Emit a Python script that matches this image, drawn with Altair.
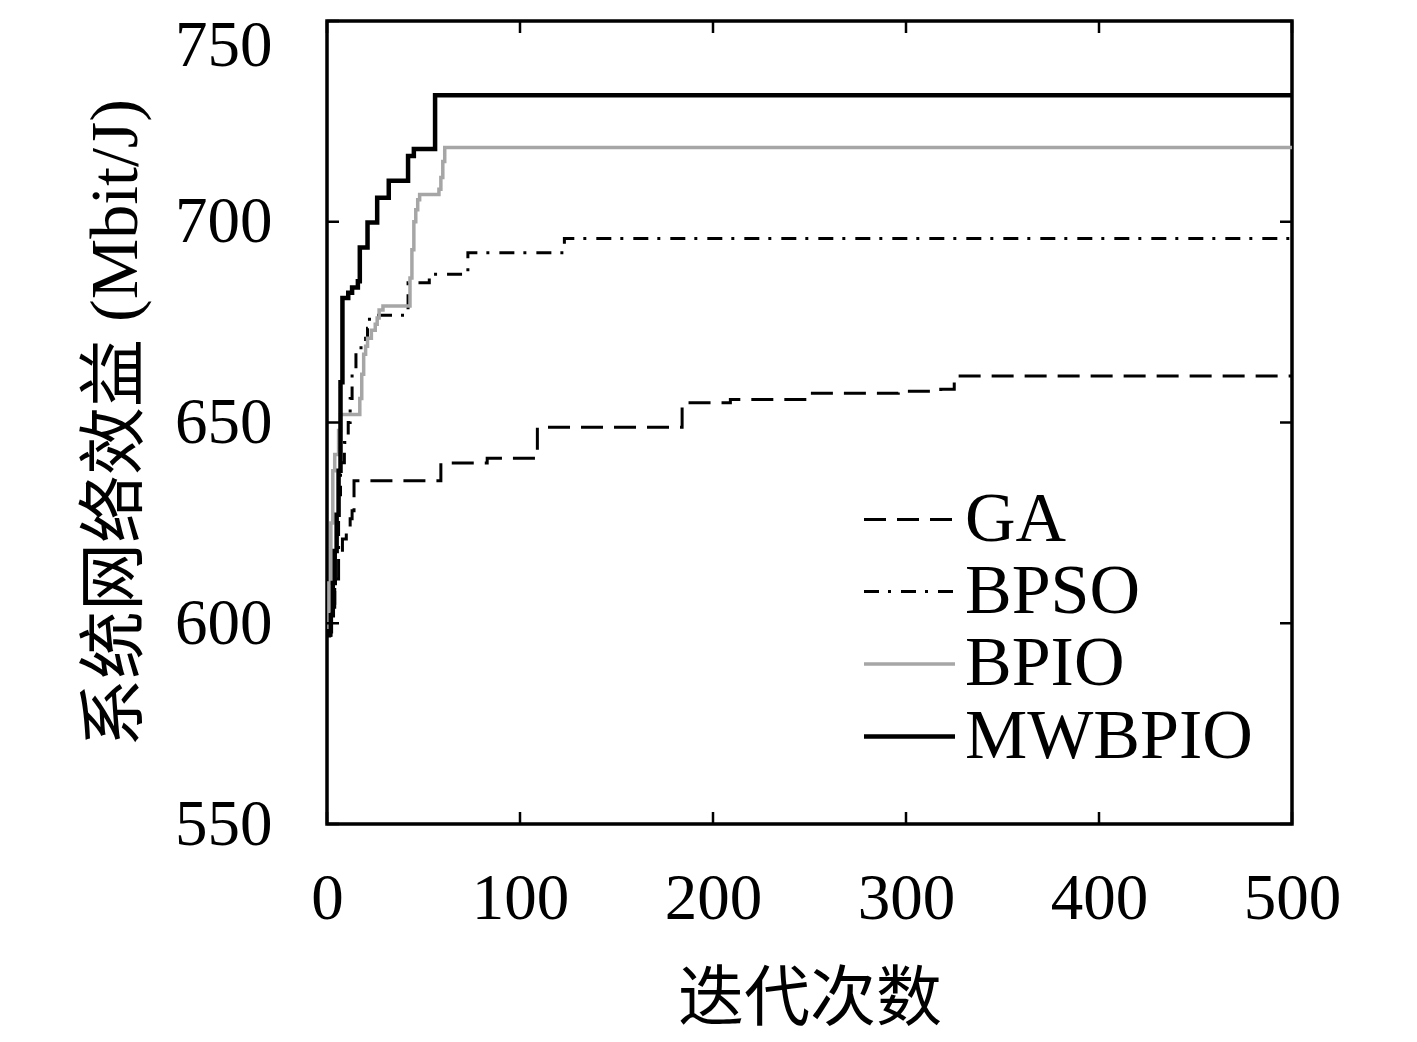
import altair as alt
import pandas as pd

# ---- data ----
methods = ["GA", "BPSO", "BPIO", "MWBPIO"]

ga_iter = [0, 2, 4, 6, 8, 10, 12, 13, 14, 59, 83, 109, 184, 209, 249, 296, 318, 325, 500]
ga_val = [597, 604, 611, 617, 621, 624, 626, 628, 635.5, 639.9, 641.1, 648.8, 654.9,
          655.7, 657.3, 657.8, 658.3, 661.6, 661.6]

bpso_iter = [0, 2, 4, 6, 7, 9, 11, 12, 13, 15, 20, 21, 22, 42, 53, 73, 123, 500]
bpso_val = [597, 605, 618, 632, 640, 645, 650, 656, 662, 668.6, 671, 673.5, 676.7,
            684.8, 686.9, 692.3, 695.8, 695.8]

bpio_iter = [0, 1, 2, 3, 4, 6, 7, 17, 18, 19, 20, 21, 23, 25, 26, 27, 29, 43, 44, 45,
             46, 47, 48, 58, 59, 60, 61, 500]
bpio_val = [597, 610, 625, 638, 642, 648, 652, 656, 662, 667, 669, 671, 673, 674.5, 676,
            678, 679, 686, 693, 700, 703, 705.5, 706.8, 708.1, 711, 715, 718.5, 718.5]

mw_iter = [0, 1, 2, 3, 4, 5, 6, 7, 8, 11, 13, 16, 17, 21, 26, 32, 42, 45, 56, 500]
mw_val = [597, 598, 602, 610, 618, 627, 638, 660, 681, 682.3, 683.6, 685.2, 693.6, 699.8,
          706.0, 710.2, 716.4, 718.1, 731.5, 731.5]

x_ticks = [0, 100, 200, 300, 400, 500]
y_ticks = [550, 600, 650, 700, 750]

x_title = "迭代次数"
y_title = "系统网络效益 (Mbit/J)"

# ---- styles ----
colors = ["black", "black", "#a6a6a6", "black"]
dashes = [[22, 11], [15, 9, 3, 10], [1, 0], [1, 0]]
widths = [3, 3, 3.5, 4.5]

W, H = 965, 803
TICK = 12

rows = []
for name, its, vals in [("GA", ga_iter, ga_val), ("BPSO", bpso_iter, bpso_val),
                        ("BPIO", bpio_iter, bpio_val), ("MWBPIO", mw_iter, mw_val)]:
    for i, v in zip(its, vals):
        rows.append({"method": name, "iter": i, "value": v})
df = pd.DataFrame(rows)

legend = alt.Legend(
    title=None, orient="none", legendX=545, legendY=462,
    symbolType="M-1.3,0H1.3", symbolSize=4900,
    labelFont="Liberation Serif", labelFontSize=70, labelColor="black",
    labelOffset=18, rowPadding=0, padding=0, labelLimit=600,
)

xscale = alt.Scale(domain=[0, 500], nice=False)
yscale = alt.Scale(domain=[550, 750], nice=False, zero=False)

lines = alt.Chart(df).mark_line(interpolate="step-after", strokeCap="butt").encode(
    x=alt.X("iter:Q", scale=xscale,
            axis=alt.Axis(values=x_ticks, title=x_title, labelPadding=43,
                          labelBaseline="top", labelFlush=False, titlePadding=36,
                          titleFontSize=66)),
    y=alt.Y("value:Q", scale=yscale,
            axis=alt.Axis(values=y_ticks, title=y_title, labelPadding=55,
                          titlePadding=24, titleFontSize=68, labelFlush=False,
                          labelOffset={"condition": {"test": "datum.value == 750", "value": 24},
                                       "value": 0})),
    color=alt.Color("method:N", scale=alt.Scale(domain=methods, range=colors), legend=legend),
    strokeDash=alt.StrokeDash("method:N", scale=alt.Scale(domain=methods, range=dashes),
                              legend=legend),
    strokeWidth=alt.StrokeWidth("method:N",
                                scale=alt.Scale(type="ordinal", domain=methods, range=widths),
                                legend=legend),
)

yt = pd.DataFrame({"value": y_ticks})
xt = pd.DataFrame({"iter": x_ticks})

left_ticks = alt.Chart(yt).mark_rule(color="black", strokeWidth=2.5).encode(
    y="value:Q", x=alt.value(0), x2=alt.value(TICK))
right_ticks = alt.Chart(yt).mark_rule(color="black", strokeWidth=2.5).encode(
    y="value:Q", x=alt.value(W - TICK), x2=alt.value(W))
bottom_ticks = alt.Chart(xt).mark_rule(color="black", strokeWidth=2.5).encode(
    x="iter:Q", y=alt.value(H - TICK), y2=alt.value(H))
top_ticks = alt.Chart(xt).mark_rule(color="black", strokeWidth=2.5).encode(
    x="iter:Q", y=alt.value(0), y2=alt.value(TICK))

chart = alt.layer(lines, left_ticks, right_ticks, bottom_ticks, top_ticks).properties(
    width=W, height=H,
    autosize=alt.AutoSizeParams(type="none"),
    padding={"left": 319, "top": 13, "right": 110, "bottom": 210},
    background="white",
).configure_view(
    stroke="black", strokeWidth=3.5
).configure_axis(
    grid=False, domain=False, ticks=False, tickSize=0,
    labelFont="Liberation Serif", labelFontSize=65, labelColor="black",
    titleFont="Liberation Serif, Noto Sans CJK SC", titleFontSize=64,
    titleFontWeight="normal", titleColor="black",
)

chart.save("out.html", embed_options={"renderer": "svg", "actions": False})
